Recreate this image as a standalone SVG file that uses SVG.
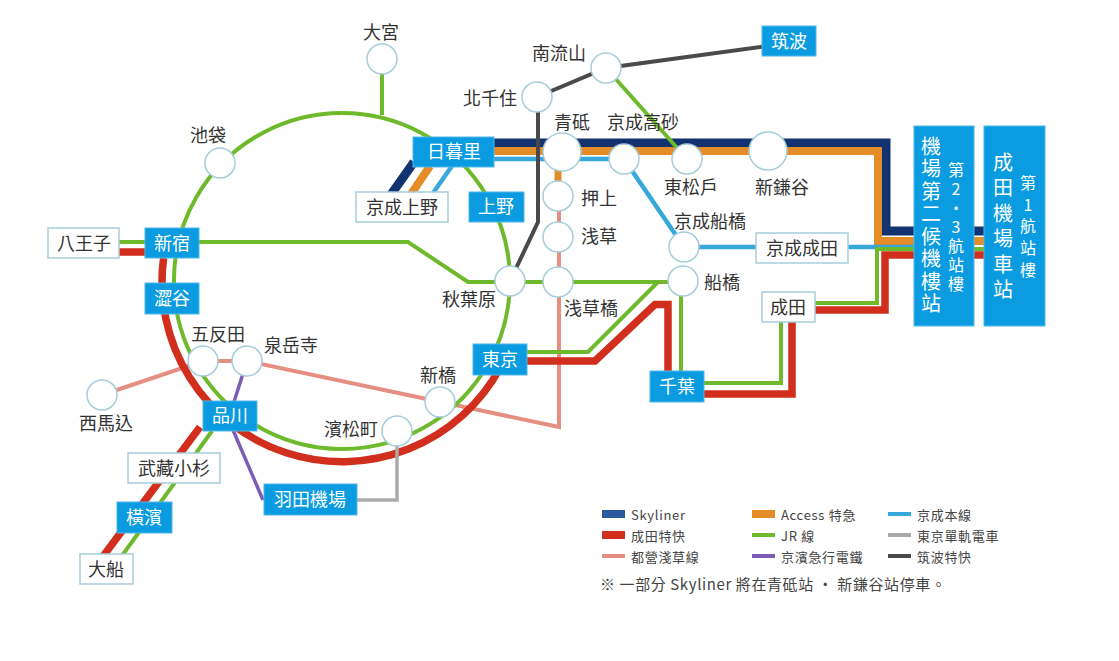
<svg xmlns="http://www.w3.org/2000/svg" width="1119" height="661" viewBox="0 0 1119 661">
<style>
text{font-family:"Noto Sans CJK TC","Noto Sans",sans-serif;font-size:18px;fill:#333;text-anchor:middle}
.st{fill:#fff;stroke:#a7cddb;stroke-width:1.5}
.bb{fill:#0a9be0;stroke:#4fb8e8;stroke-width:1}
.wb{fill:#fff;stroke:#a7cddb;stroke-width:1.5}
.w{fill:#fff}
.l{fill:none;stroke-linejoin:miter}
.sky{stroke:#12336f;stroke-width:9}
.acc{stroke:#e48c27;stroke-width:8}
.kei{stroke:#38a8dc;stroke-width:4.5}
.jr{stroke:#6fba2c;stroke-width:4}
.nar{stroke:#d12e1e;stroke-width:7.5}
.asa{stroke:#e58f82;stroke-width:4}
.pur{stroke:#7d5cb5;stroke-width:3.5}
.mon{stroke:#aaa;stroke-width:3.5}
.tsu{stroke:#4a4a4a;stroke-width:4}
.v{writing-mode:vertical-rl;text-orientation:upright;text-anchor:start;fill:#fff}
.lg{font-size:13px;text-anchor:start;letter-spacing:.7px;fill:#444}
</style>
<g id="connectors">
<path class="l asa" d="M102 395L203 361H247L559 427V196"/>
<path class="l sky" d="M414 162L385 203M494 143H886V231H1000"/>
<path class="l acc" d="M430 166L405 203M494 151H878V241H1000"/>
<path class="l acc" d="M558 152V196" style="stroke-width:7"/>
<path class="l kei" d="M452 166L426 203M494 159H624L684 247H914"/>
<path class="l jr" d="M342 113A168 168 0 1 1 341.900 113"/>
<path class="l jr" d="M382 59V115M199 242H408L468 282H683M527 352H588L658 282M119 242H145M681 281V371M606 68L687 159M212 431L116 564M704 383H781V303H877V249H1000"/>
<path class="l nar" d="M163.600 258A180 180 0 0 0 500 368M119 252H145M527 361H595L655 304.500H668V371M200 427L98 563M704 394H792V322M815 310H885V255H1000"/>
<path class="l pur" d="M247 361L233 405M233 430L263 500"/>
<path class="l mon" d="M397 431V500H357"/>
<path class="l tsu" d="M789 43L606 68L537 97M538 97V222L510 281"/>
</g>
<g id="daimiya"><circle class="st" cx="382" cy="59" r="15"/><text x="381" y="39">大宮</text></g>
<g id="ikebukuro"><circle class="st" cx="220" cy="163" r="15"/><text x="208" y="142">池袋</text></g>
<g id="nagareyama"><circle class="st" cx="606" cy="68" r="15"/><text x="559" y="60">南流山</text></g>
<g id="kitasenju"><circle class="st" cx="537" cy="97" r="15"/><text x="490" y="105">北千住</text></g>
<g id="aoto"><circle class="st" cx="562" cy="152" r="19"/><text x="572" y="129">青砥</text></g>
<g id="takasago"><circle class="st" cx="624" cy="159" r="15"/><text x="643" y="129">京成高砂</text></g>
<g id="higashimatsudo"><circle class="st" cx="687" cy="159" r="15"/><text x="691" y="194">東松戶</text></g>
<g id="shinkamagaya"><circle class="st" cx="768" cy="151" r="19"/><text x="782" y="194">新鎌谷</text></g>
<g id="oshiage"><circle class="st" cx="558" cy="196" r="15"/><text x="599" y="205">押上</text></g>
<g id="asakusa"><circle class="st" cx="558" cy="237" r="15"/><text x="599" y="243">浅草</text></g>
<g id="akihabara"><circle class="st" cx="510" cy="281" r="15"/><text x="469" y="306">秋葉原</text></g>
<g id="asakusabashi"><circle class="st" cx="558" cy="282" r="15"/><text x="591" y="315">浅草橋</text></g>
<g id="keiseifunabashi"><circle class="st" cx="684" cy="247" r="15"/><text x="710" y="228">京成船橋</text></g>
<g id="funabashi"><circle class="st" cx="683" cy="281" r="15"/><text x="722" y="289">船橋</text></g>
<g id="gotanda"><circle class="st" cx="203" cy="361" r="15"/><text x="218" y="341">五反田</text></g>
<g id="sengakuji"><circle class="st" cx="247" cy="361" r="15"/><text x="291" y="352">泉岳寺</text></g>
<g id="nishimagome"><circle class="st" cx="102" cy="395" r="15"/><text x="106" y="430">西馬込</text></g>
<g id="shimbashi"><circle class="st" cx="440" cy="402" r="15"/><text x="438" y="382">新橋</text></g>
<g id="hamamatsucho"><circle class="st" cx="397" cy="431" r="15"/><text x="351" y="436">濱松町</text></g>
<g id="nippori"><rect class="bb" x="413" y="137" width="81" height="30"/><text class="w" x="454" y="158">日暮里</text></g>
<g id="ueno"><rect class="bb" x="469" y="192" width="55" height="30"/><text class="w" x="496" y="213">上野</text></g>
<g id="keiseiueno"><rect class="wb" x="356" y="192" width="92" height="30"/><text x="402" y="214">京成上野</text></g>
<g id="shinjuku"><rect class="bb" x="145" y="228" width="54" height="30"/><text class="w" x="172" y="250">新宿</text></g>
<g id="shibuya"><rect class="bb" x="145" y="283" width="54" height="31"/><text class="w" x="172" y="305">澀谷</text></g>
<g id="hachioji"><rect class="wb" x="48" y="228" width="71" height="30"/><text x="84" y="250">八王子</text></g>
<g id="shinagawa"><rect class="bb" x="203" y="401" width="54" height="30"/><text class="w" x="230" y="422">品川</text></g>
<g id="musashikosugi"><rect class="wb" x="128" y="453" width="92" height="30"/><text x="174" y="475">武藏小杉</text></g>
<g id="yokohama"><rect class="bb" x="117" y="502" width="55" height="31"/><text class="w" x="144" y="524">橫濱</text></g>
<g id="ofuna"><rect class="wb" x="80" y="554" width="53" height="30"/><text x="106" y="576">大船</text></g>
<g id="haneda"><rect class="bb" x="264" y="484" width="93" height="31"/><text class="w" x="310" y="506">羽田機場</text></g>
<g id="tokyo"><rect class="bb" x="473" y="344" width="54" height="31"/><text class="w" x="500" y="366">東京</text></g>
<g id="chiba"><rect class="bb" x="650" y="371" width="54" height="31"/><text class="w" x="677" y="393">千葉</text></g>
<g id="narita"><rect class="wb" x="762" y="292" width="53" height="30"/><text x="788" y="314">成田</text></g>
<g id="keiseinarita"><rect class="wb" x="756" y="233" width="92" height="30"/><text x="802" y="255">京成成田</text></g>
<g id="tsukuba"><rect class="bb" x="762" y="26" width="54" height="30"/><text class="w" x="789" y="48">筑波</text></g>
<g id="airport2"><rect class="bb" x="914" y="126" width="60" height="200"/>
<text class="v" x="931" y="136" style="font-size:20px;letter-spacing:2.500px">機場第二候機樓站</text>
<text class="v" x="956" y="162" style="font-size:16px;letter-spacing:3px">第2·3航站樓</text></g>
<g id="airport1"><rect class="bb" x="984" y="126" width="61" height="200"/>
<text class="v" x="1003" y="152" style="font-size:20px;letter-spacing:5.500px">成田機場車站</text>
<text class="v" x="1028" y="175" style="font-size:16px;letter-spacing:5.700px">第1航站樓</text></g>
<g id="legend">
<rect x="602" y="510" width="23" height="8" fill="#2b5a9e"/><text class="lg" x="631" y="520">Skyliner</text>
<rect x="602" y="531" width="23" height="8" fill="#d12e1e"/><text class="lg" x="631" y="541">成田特快</text>
<rect x="602" y="554" width="23" height="4" fill="#e58f82"/><text class="lg" x="631" y="562">都營淺草線</text>
<rect x="752" y="510" width="23" height="8" fill="#e48c27"/><text class="lg" x="781" y="520">Access 特急</text>
<rect x="752" y="533" width="23" height="4" fill="#6fba2c"/><text class="lg" x="781" y="541">JR 線</text>
<rect x="752" y="554" width="23" height="4" fill="#7d5cb5"/><text class="lg" x="781" y="562">京濱急行電鐵</text>
<rect x="888" y="512" width="23" height="4" fill="#38a8dc"/><text class="lg" x="917" y="520">京成本線</text>
<rect x="888" y="533" width="23" height="4" fill="#aaa"/><text class="lg" x="917" y="541">東京單軌電車</text>
<rect x="888" y="554" width="23" height="4" fill="#4a4a4a"/><text class="lg" x="917" y="562">筑波特快</text>
<text class="lg" x="600" y="590" style="font-size:15px;letter-spacing:.6px">※ 一部分 Skyliner 將在青砥站 · 新鎌谷站停車。</text>
</g>
</svg>
